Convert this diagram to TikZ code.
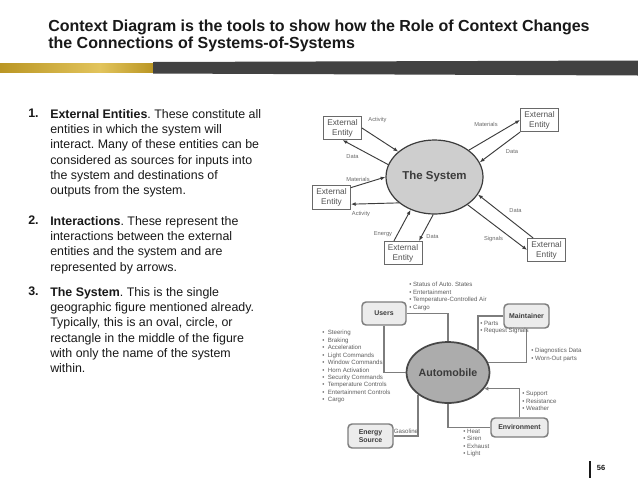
\documentclass[tikz,border=0pt]{standalone}
\usepackage{fontspec}
\setmainfont{Liberation Sans}
\frenchspacing
\definecolor{ink}{RGB}{25,25,25}
\definecolor{gold}{RGB}{186,150,36}
\definecolor{goldlight}{RGB}{226,196,92}
\definecolor{band}{RGB}{66,66,66}
\definecolor{sysfill}{RGB}{206,206,206}
\definecolor{autofill}{RGB}{172,172,172}
\definecolor{boxfill}{RGB}{236,236,236}
\definecolor{linegray}{RGB}{125,125,125}
\definecolor{lblgray}{RGB}{105,105,105}
\usetikzlibrary{arrows.meta,shapes.geometric,positioning}

\begin{document}
\begin{tikzpicture}[x=0.75pt,y=-0.75pt,
				arr/.style={-{Latex[length=3.6pt,width=2.8pt]},line width=0.7pt,draw=ink!85},
				ent/.style={draw=lblgray,line width=0.6pt,minimum width=28.5pt,minimum height=17.5pt,inner sep=0,align=center,text=ink!75,font=\fontsize{6.2}{7.4}\selectfont},
				lbl/.style={font=\fontsize{4.3}{5}\selectfont,text=lblgray,inner sep=0},
				rbox/.style={draw=linegray,line width=1.1pt,fill=boxfill,rounded corners=3pt,inner sep=0,align=center,text=ink!85,font=\fontsize{5.2}{6}\selectfont\bfseries},
				link/.style={draw=linegray,line width=1.1pt},
				blist/.style={anchor=north west,align=left,inner sep=0,text=ink!70,font=\fontsize{4.6}{5.6}\selectfont},
				item/.style={anchor=north west,align=left,inner sep=0,text=ink,font=\fontsize{9.3}{11.5}\selectfont}]
				\useasboundingbox (0,0) rectangle (638,479);
				\fill[white] (0,0) rectangle (638,479);
				
				% title and band
				\node[anchor=north west,align=left,inner sep=0,text=ink,font=\fontsize{12}{11}\selectfont\bfseries] (title) at (48,20)
				{Context Diagram is the tools to show how the Role of Context Changes\\the Connections of Systems-of-Systems};
				\shade[left color=gold,right color=goldlight] (0,63) rectangle (100,72);
				\shade[left color=goldlight,right color=gold] (100,63) rectangle (153,72);
				\fill[band] (153,62) -- (638,60.5) -- (638,75.5) -- (153,73.5) -- cycle;
				
				% left text
				\node[item,font=\fontsize{9.3}{11.5}\selectfont\bfseries] (n1) at (28,109) {1.};
				\node[item] (t1) at (50,109) {\textbf{External Entities}. These constitute all\\entities in which the system will\\interact. Many of these entities can be\\considered as sources for inputs into\\the system and destinations of\\outputs from the system.};
				\node[item,font=\fontsize{9.3}{11.5}\selectfont\bfseries] (n2) at (28,216) {2.};
				\node[item] (t2) at (50,216) {\textbf{Interactions}. These represent the\\interactions between the external\\entities and the system and are\\represented by arrows.};
				\node[item,font=\fontsize{9.3}{11.5}\selectfont\bfseries] (n3) at (28,287) {3.};
				\node[item] (t3) at (50,287) {\textbf{The System}. This is the single\\geographic figure mentioned already.\\Typically, this is an oval, circle, or\\rectangle in the middle of the figure\\with only the name of the system\\within.};
				
				% upper context diagram
				\node[ellipse,draw=ink!85,line width=0.9pt,fill=sysfill,minimum width=72.75pt,minimum height=55.5pt,inner sep=0,font=\fontsize{8.6}{10}\selectfont\bfseries,text=ink!85] (sys) at (434.5,177) {The System};
				\node[ent] (tl) at (342.5,128) {External\\Entity};
				\node[ent] (l) at (331.5,197.5) {External\\Entity};
				\node[ent] (tr) at (539.5,120) {External\\Entity};
				\node[ent] (bl) at (403,253) {External\\Entity};
				\node[ent] (br) at (546.5,250) {External\\Entity};
				
				\draw[arr] (tl.east) -- (sys.145);
				\draw[arr] (sys.165) -- (tl.south);
				\draw[arr] (l.27) -- (sys.180);
				\draw[arr] (sys.216) -- (l.-19);
				\draw[arr] (sys.38) -- (tr.west);
				\draw[arr] (tr.south west) -- (sys.18);
				\draw[arr] (br.138) -- (sys.-22);
				\draw[arr] (sys.-40) -- (br.west);
				\draw[arr] (bl.127) -- (sys.234);
				\draw[arr] (sys.268) -- (bl.37);
				
				\node[lbl] (la1) at (377.5,120) {Activity};
				\node[lbl] (la2) at (352.5,157) {Data};
				\node[lbl] (la3) at (358,179) {Materials};
				\node[lbl] (la4) at (361,214) {Activity};
				\node[lbl] (la5) at (486,124) {Materials};
				\node[lbl] (la6) at (512,152) {Data};
				\node[lbl] (la7) at (515.5,211) {Data};
				\node[lbl] (la8) at (493.5,239) {Signals};
				\node[lbl] (la9) at (383,234) {Energy};
				\node[lbl] (la10) at (432.5,237) {Data};
				
				% automobile diagram
				\node[ellipse,draw=ink!80,line width=1.3pt,fill=autofill,minimum width=60pt,minimum height=45.75pt,inner sep=0,font=\fontsize{8}{9}\selectfont\bfseries,text=ink!85] (auto) at (448,372.5) {Automobile};
				\node[rbox,minimum width=33pt,minimum height=17.25pt] (users) at (384,313.5) {Users};
				\node[rbox,minimum width=33.75pt,minimum height=18pt] (maint) at (526.5,316) {Maintainer};
				\node[rbox,minimum width=42.75pt,minimum height=14.25pt] (env) at (519.5,427.5) {Environment};
				\node[rbox,minimum width=33.75pt,minimum height=18pt] (energy) at (370.5,436) {Energy\\Source};
				
				\draw[link] (users.east) -| (auto.north);
				\draw[link] (users.south) |- (auto.west);
				\draw[link] (maint.west) -| (auto.north east);
				\draw[link] (maint.south) |- (auto.14);
				\draw[link,-{Latex[length=3pt,width=3pt]}] (env.north) |- (auto.-24);
				\draw[link] (auto.south) |- (env.west);
				\draw[link] (energy.east) -| (auto.south west);
				
				\node[blist] (b1) at (409,282) {\textbullet\ Status of Auto. States\\\textbullet\ Entertainment\\\textbullet\ Temperature-Controlled Air\\\textbullet\ Cargo};
				\node[blist] (b2) at (322,330) {\textbullet\ \ Steering\\\textbullet\ \ Braking\\\textbullet\ \ Acceleration\\\textbullet\ \ Light Commands\\\textbullet\ \ Window Commands\\\textbullet\ \ Horn Activation\\\textbullet\ \ Security Commands\\\textbullet\ \ Temperature Controls\\\textbullet\ \ Entertainment Controls\\\textbullet\ \ Cargo};
				\node[blist] (b3) at (480,321) {\textbullet\ Parts\\\textbullet\ Request Signals};
				\node[blist] (b4) at (531,348) {\textbullet\ Diagnostics Data\\\textbullet\ Worn-Out parts};
				\node[blist] (b5) at (522,391) {\textbullet\ Support\\\textbullet\ Resistance\\\textbullet\ Weather};
				\node[blist] (b6) at (463,429) {\textbullet\ Heat\\\textbullet\ Siren\\\textbullet\ Exhaust\\\textbullet\ Light};
				\node[blist,anchor=center] (gas) at (406,431) {Gasoline};
				
				% page number
				\draw[ink,line width=1.4pt] (590,461) -- (590,478);
				\node[inner sep=0,font=\fontsize{5.6}{6}\selectfont\bfseries,text=ink] (pg) at (601,468) {56};
			\end{tikzpicture}
\end{document}
